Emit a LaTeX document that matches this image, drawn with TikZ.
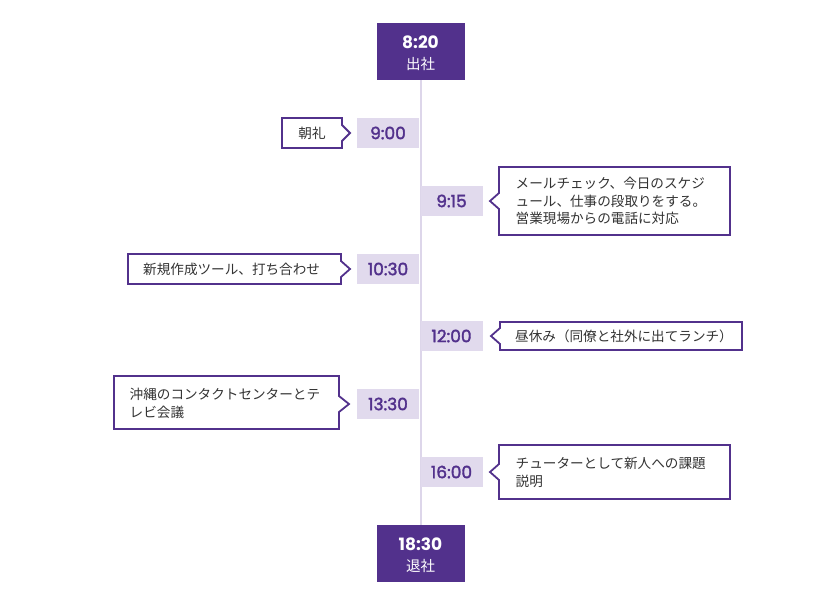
\documentclass[tikz,border=0pt]{standalone}
\usepackage{fontspec}
\newfontfamily\jp{Noto Sans CJK JP}
\newfontfamily\num{Poppins}
\newfontfamily\numm[FakeBold=2]{Poppins}
\definecolor{dpurple}{HTML}{52318C}
\definecolor{lpurple}{HTML}{E1DAED}
\definecolor{linec}{HTML}{DDD6EA}
\definecolor{txt}{HTML}{333333}
\begin{document}
\begin{tikzpicture}[x=1pt,y=-1pt,
  endbox/.style={fill=dpurple,draw=none,minimum width=88pt,minimum height=57pt,inner sep=0pt},
  endtime/.style={text=white,font=\num\bfseries\fontsize{17}{20}\selectfont,inner sep=0pt},
  endlabel/.style={text=white,font=\jp\fontsize{14.5}{16}\selectfont,inner sep=0pt},
  tlabel/.style={fill=lpurple,text=dpurple,minimum width=62pt,minimum height=30pt,inner sep=0pt,font=\numm\fontsize{17}{20}\selectfont},
  callout/.style={draw=dpurple,line width=1.8pt,fill=white,line join=miter},
  ctext/.style={text=txt,font=\jp\fontsize{13.6}{17.8}\selectfont,align=left,inner sep=0pt},
  tline/.style={draw=linec,line width=2pt}]
\useasboundingbox[fill=white] (0,0) rectangle (840,606);

\node[endbox] (start) at (420.5,51.5) {};
\node[endbox] (end) at (420.5,553.5) {};
\draw[tline] (start.south) -- (end.north);
\node[endtime] (starttime) at (420.5,42) {8:20};
\node[endlabel] (startlbl) at (420.5,64) {出社};
\node[endtime] (endtime) at (420.5,544) {18:30};
\node[endlabel] (endlbl) at (420.5,566) {退社};

% time labels
\node[tlabel] (t900) at (388,133) {9:00};
\node[tlabel] (t915) at (451.5,201) {9:15};
\node[tlabel] (t1030) at (388,269) {10:30};
\node[tlabel] (t1200) at (451.5,336) {12:00};
\node[tlabel] (t1330) at (388,404) {13:30};
\node[tlabel] (t1600) at (451.5,472) {16:00};

% left callouts
\draw[callout] (282,118) -- (342,118) -- (342,125) -- (350,133) -- (342,141) -- (342,148) -- (282,148) -- cycle;
\node[ctext] (c900) at (312,133) {朝礼};

\draw[callout] (128,254) -- (341,254) -- (341,261) -- (350,269) -- (341,277) -- (341,284) -- (128,284) -- cycle;
\node[ctext,anchor=west] (c1030) at (143,269) {新規作成ツール、打ち合わせ};

\draw[callout] (114,376) -- (339,376) -- (339,396) -- (349,404) -- (339,412) -- (339,429) -- (114,429) -- cycle;
\node[ctext,anchor=west] (c1330) at (129.5,403) {沖縄のコンタクトセンターとテ\\レビ会議};

% right callouts
\draw[callout] (730,167) -- (499,167) -- (499,193) -- (490,201) -- (499,209) -- (499,235) -- (730,235) -- cycle;
\node[ctext,anchor=west] (c915) at (515.5,201) {メールチェック、今日のスケジ\\ュール、仕事の段取りをする。\\営業現場からの電話に対応};

\draw[callout] (742,322) -- (500,322) -- (500,328) -- (491,336) -- (500,344) -- (500,350) -- (742,350) -- cycle;
\node[ctext,anchor=west] (c1200) at (515,336) {昼休み（同僚と社外に出てランチ）};

\draw[callout] (730,445) -- (499,445) -- (499,464) -- (490,472) -- (499,480) -- (499,499) -- (730,499) -- cycle;
\node[ctext,anchor=west] (c1600) at (515.5,472) {チューターとして新人への課題\\説明};
\end{tikzpicture}
\end{document}
